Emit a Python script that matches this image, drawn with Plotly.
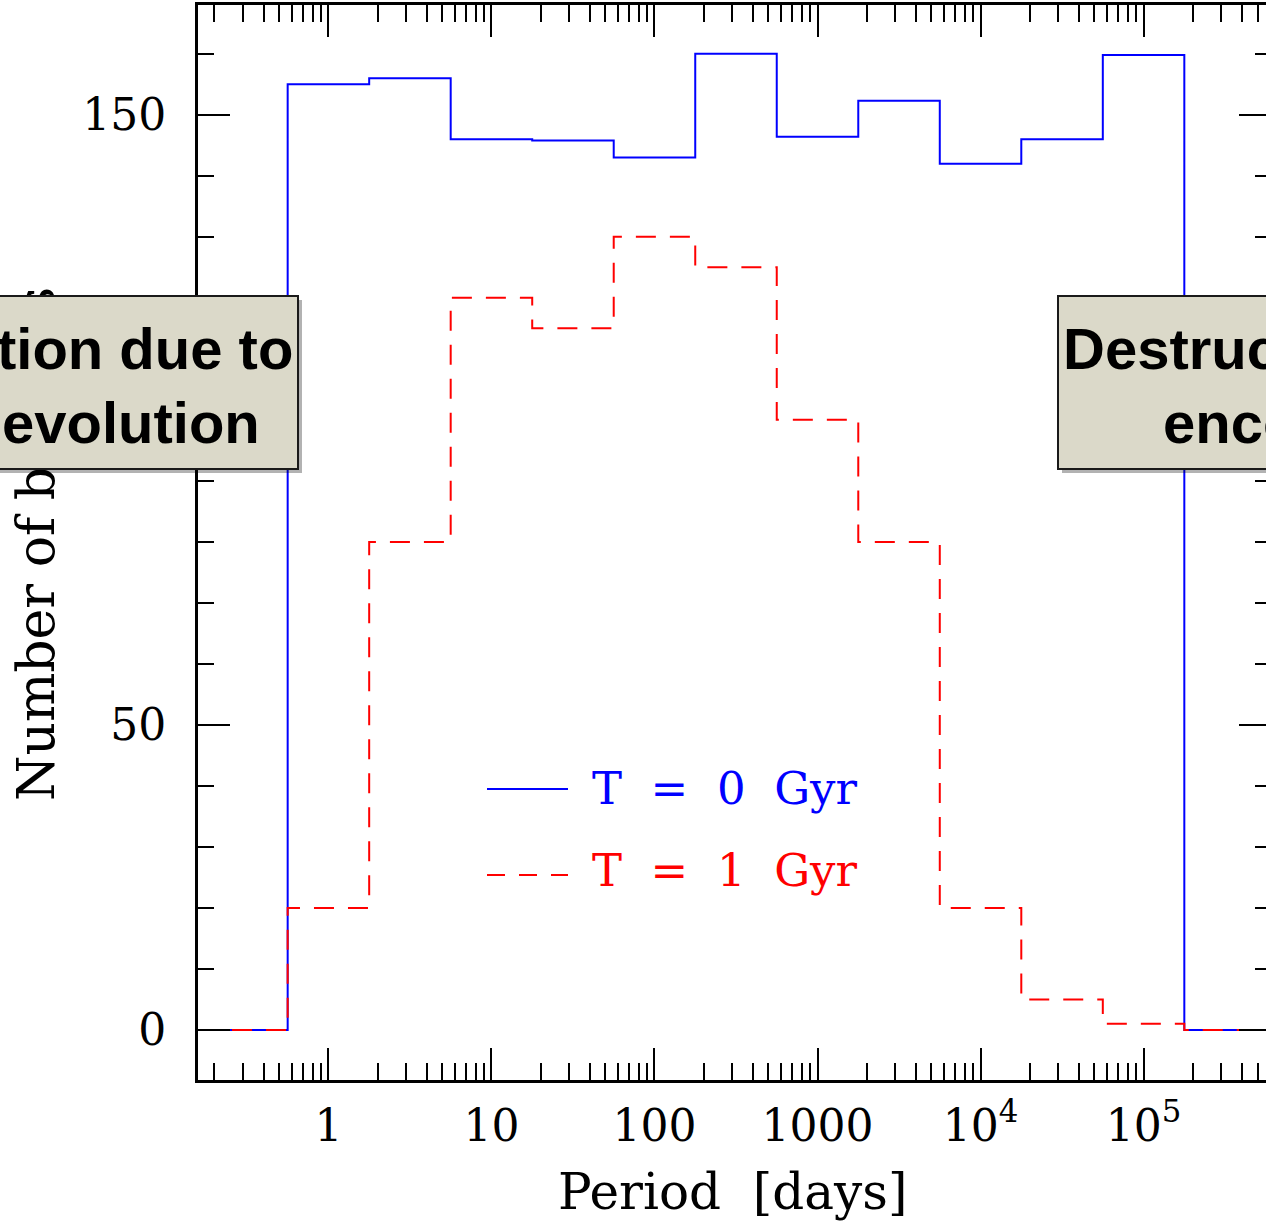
import plotly.graph_objects as go

# ---- data ----
log_edges = [-0.25, 0.25, 0.75, 1.25, 1.75, 2.25, 2.75, 3.25, 3.75, 4.25, 4.75, 5.25]
counts_t0 = [155, 156, 146, 145.8, 143, 160, 146.4, 152.3, 142, 146, 159.8]
counts_t1 = [20, 80, 120, 115, 130, 125, 100, 80, 20, 5, 1]
x_tick_vals = [1, 10, 100, 1000, 1e4, 1e5]
x_tick_text = ["1", "10", "100", "1000", "10<sup>4</sup>", "10<sup>5</sup>"]
y_tick_vals = [0, 50, 100, 150]
y_tick_text = ["0", "50", "", "150"]   # the 100 label is hidden behind the box in the original
series_names = ["T\u00a0 =\u00a0 0\u00a0 Gyr", "T\u00a0 =\u00a0 1\u00a0 Gyr"]
box_left_lines = ["Destruction due to", "stellar evolution"]
box_right_lines = ["Destruction due to", "encounters"]

XR = [-0.8, 5.751]
YR = [-8.2, 168.0]

W, H = 1266, 1221
L, T, B = 198, 5, 141
PW = W - L
PH = H - T - B


def px2x(p):
    return (p - L) / PW


def py2y(p):
    return (H - B - p) / PH


def step_xy(vals):
    xs = [10 ** XR[0]] + [10 ** e for e in log_edges] + [10 ** XR[1]]
    ys = [0] + list(vals) + [0, 0]
    return xs, ys


fig = go.Figure()
xb, yb = step_xy(counts_t0)
xr, yr = step_xy(counts_t1)
fig.add_trace(go.Scatter(x=xb, y=yb, mode="lines", line=dict(color="#0000ff", width=2, shape="hv"),
                         showlegend=False, hoverinfo="skip"))
fig.add_trace(go.Scatter(x=xr, y=yr, mode="lines", line=dict(color="#ff0000", width=2, shape="hv", dash="20px,14px"),
                         showlegend=False, hoverinfo="skip"))
fig.add_trace(go.Scatter(x=[None], y=[None], yaxis="y2", showlegend=False, hoverinfo="skip"))

minor_x = []
for d in range(-1, 7):
    for k in range(2, 10):
        minor_x.append(k * 10 ** d)

tickfont = dict(family="DejaVu Serif", size=44, color="black")

fig.update_layout(
    width=W, height=H,
    margin=dict(l=L, r=0, t=T, b=B),
    paper_bgcolor="white", plot_bgcolor="white",
    showlegend=False,
    xaxis=dict(type="log", range=XR, showgrid=False, zeroline=False,
               showline=True, linewidth=3, linecolor="black", mirror="ticks",
               ticks="inside", ticklen=32, tickwidth=2, tickcolor="black",
               tickmode="array", tickvals=x_tick_vals, ticktext=x_tick_text,
               tickfont=tickfont, ticklabelstandoff=5,
               minor=dict(ticks="inside", ticklen=17, tickwidth=2, tickcolor="black",
                          tickmode="array", tickvals=minor_x, showgrid=False)),
    yaxis=dict(range=YR, showgrid=False, zeroline=False,
               showline=True, linewidth=3, linecolor="black",
               ticks="inside", ticklen=32, tickwidth=2, tickcolor="black",
               tickmode="array", tickvals=y_tick_vals, ticktext=y_tick_text,
               tickfont=tickfont, ticklabelstandoff=20,
               minor=dict(ticks="inside", ticklen=16, tickwidth=2, tickcolor="black",
                          dtick=10, showgrid=False)),
    yaxis2=dict(range=YR, overlaying="y", side="right", anchor="x", showgrid=False, zeroline=False,
                showline=True, linewidth=3, linecolor="black",
                ticks="inside", ticklen=27, tickwidth=2, tickcolor="black",
                tickmode="array", tickvals=y_tick_vals, showticklabels=False,
                minor=dict(ticks="inside", ticklen=11, tickwidth=2, tickcolor="black",
                           dtick=10, showgrid=False)),
)

# legend lines
fig.add_shape(type="line", xref="paper", yref="paper", x0=px2x(487), x1=px2x(568), y0=py2y(789), y1=py2y(789),
              line=dict(color="#0000ff", width=2))
fig.add_shape(type="line", xref="paper", yref="paper", x0=px2x(487), x1=px2x(568), y0=py2y(875), y1=py2y(875),
              line=dict(color="#ff0000", width=2, dash="18px,14px"))

ann = []
serif = "DejaVu Serif"
ann.append(dict(text=series_names[0], x=px2x(590), y=py2y(789), xanchor="left", yanchor="middle",
                font=dict(family=serif, size=45, color="#0000ff")))
ann.append(dict(text=series_names[1], x=px2x(590), y=py2y(870), xanchor="left", yanchor="middle",
                font=dict(family=serif, size=45, color="#ff0000")))
ann.append(dict(text="Period\u00a0\u00a0[days]", x=px2x(733), y=py2y(1192), xanchor="center", yanchor="middle",
                font=dict(family=serif, size=50, color="black")))
ann.append(dict(text="Number of binaries", x=px2x(36), y=py2y(544), xanchor="center", yanchor="middle",
                textangle=-90, font=dict(family=serif, size=52, color="black")))

boxfont = dict(family="Liberation Sans, Arial", size=58, color="black", weight="bold")
boxes = [
    (-225, 299, box_left_lines),
    (1057, 1581, box_right_lines),
]
for x0, x1, lines in boxes:
    wbox = x1 - x0
    # shadow
    ann.append(dict(text=" ", x=px2x(x0 + 4), y=py2y(295 + 4), xanchor="left", yanchor="top",
                    width=wbox - 4, height=175 - 4, bgcolor="rgba(0,0,0,0.3)", borderwidth=2,
                    bordercolor="rgba(0,0,0,0)", borderpad=0))
    ann.append(dict(text=" ", x=px2x(x0), y=py2y(295), xanchor="left", yanchor="top",
                    width=wbox - 4, height=175 - 4, bgcolor="#dbd9c9", borderwidth=2,
                    bordercolor="#1a1a1a", borderpad=0))
    cx = (x0 + x1) / 2
    ann.append(dict(text=lines[0], x=px2x(cx), y=py2y(349), xanchor="center", yanchor="middle", font=boxfont))
    ann.append(dict(text=lines[1], x=px2x(cx), y=py2y(422), xanchor="center", yanchor="middle", font=boxfont))

for a in ann:
    a.setdefault("xref", "paper")
    a.setdefault("yref", "paper")
    a.setdefault("showarrow", False)
    fig.add_annotation(**a)

fig.write_html("out.html")
